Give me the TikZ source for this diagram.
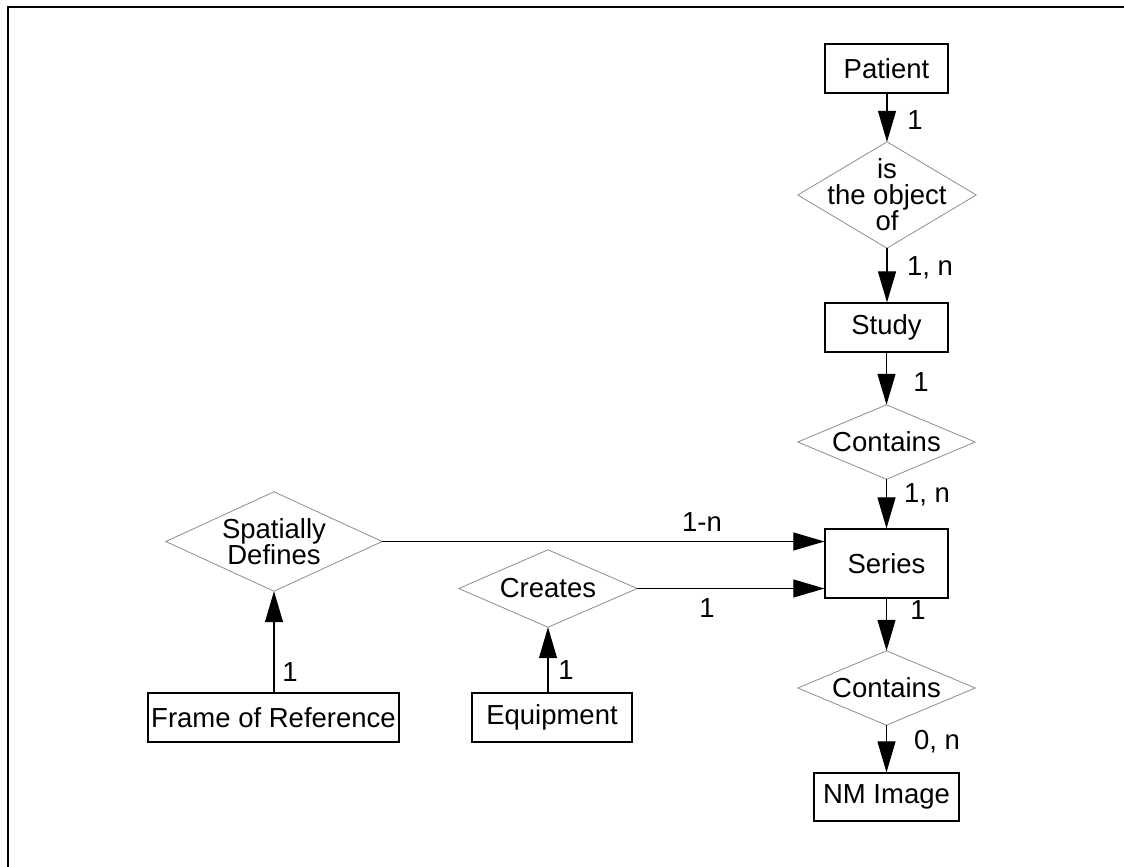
\documentclass[tikz,border=0pt]{standalone}
\usepackage{fontspec}
\setmainfont{Liberation Sans}
\usetikzlibrary{arrows.meta}
\newcommand{\dgfont}{\fontsize{27.5}{25.5}\selectfont}
\begin{document}
\begin{tikzpicture}[x=1pt,y=-1pt,
  entity/.style={draw=black, line width=1.2pt, inner sep=0pt, font=\dgfont},
  relbox/.style={inner sep=0pt, font=\dgfont, align=center},
  relline/.style={draw=black!45, line width=0.8pt},
  conn/.style={line width=1.1pt, -{Triangle[length=31pt,width=18pt]}},
  card/.style={inner sep=0pt, font=\dgfont},
  frameline/.style={line width=1.7pt}]
\useasboundingbox (0,0) rectangle (1124,867);
\coordinate (fb) at (8,867);
\coordinate (ft) at (8,7);
\coordinate (fr) at (1124,7);
\draw[frameline] (fb) -- (ft) -- (fr);

% entities
\node[entity, minimum width=123pt, minimum height=49pt] (patient) at (886.5,68.5) {Patient};
\node[entity, minimum width=123pt, minimum height=49pt] (study) at (886.5,327.5) {Study};
\node[entity, minimum width=123pt, minimum height=69pt] (series) at (886.5,563.5) {Series};
\node[entity, minimum width=145pt, minimum height=48pt] (nm) at (886.5,797) {NM Image};
\node[entity, minimum width=251pt, minimum height=49pt] (frame) at (273.5,717.5) {Frame of Reference};
\node[entity, minimum width=160pt, minimum height=49pt] (equip) at (552,717.5) {Equipment};

% relationships
\node[relbox, minimum width=178pt, minimum height=106pt] (objof) at (887,195) {is\\the object\\of};
\node[relbox, minimum width=177pt, minimum height=74pt] (cont1) at (886.5,442) {Contains};
\node[relbox, minimum width=177pt, minimum height=74pt] (cont2) at (886.5,688) {Contains};
\node[relbox, minimum width=216pt, minimum height=99pt] (spat) at (274,541.5) {Spatially\\Defines};
\node[relbox, minimum width=178pt, minimum height=77pt] (creates) at (548,588.5) {Creates};
\foreach \n in {objof,cont1,cont2,spat,creates}
  \draw[relline] (\n.west) -- (\n.north) -- (\n.east) -- (\n.south) -- cycle;

% connectors
\draw[conn] (patient.south -| objof.north) -- (objof.north);
\draw[conn] (objof.south) -- (objof.south |- study.north);
\draw[conn] (study.south -| cont1.north) -- (cont1.north);
\draw[conn] (cont1.south) -- (cont1.south |- series.north);
\draw[conn] (series.south -| cont2.north) -- (cont2.north);
\draw[conn] (cont2.south) -- (cont2.south |- nm.north);
\draw[conn] (spat.east) -- (spat.east -| series.west);
\draw[conn] (creates.east) -- (creates.east -| series.west);
\draw[conn] (frame.north -| spat.south) -- (spat.south);
\draw[conn] (equip.north -| creates.south) -- (creates.south);

% cardinalities
\node[card] (c1) at (915,120) {1};
\node[card] (c2) at (930,268) {1, n};
\node[card] (c3) at (921,382) {1};
\node[card] (c4) at (927,495) {1, n};
\node[card] (c5) at (918,610) {1};
\node[card] (c6) at (937,742) {0, n};
\node[card] (c7) at (702,522) {1-n};
\node[card] (c8) at (707,608) {1};
\node[card] (c9) at (290,672) {1};
\node[card] (c10) at (566,670) {1};
\end{tikzpicture}
\end{document}
